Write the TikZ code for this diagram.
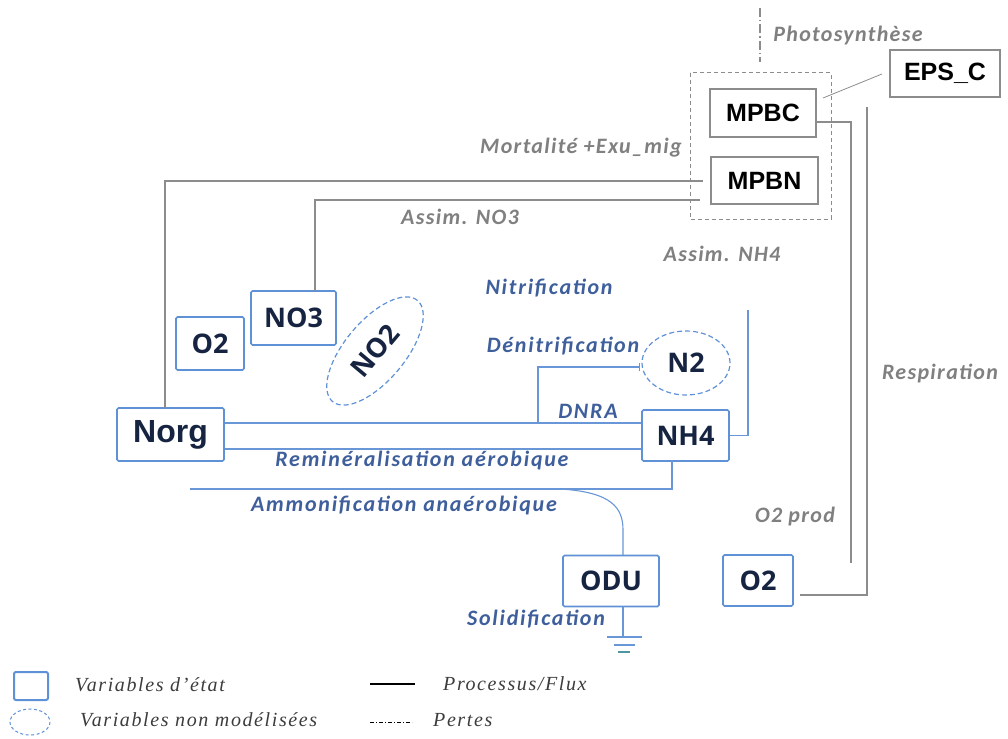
\documentclass[tikz,border=0pt]{standalone}
\usepackage{fontspec}
\usetikzlibrary{shapes.geometric,arrows.meta,calc}
\newfontfamily\boxfont{Open Sans}
\newfontfamily\arfont{Liberation Sans}
\newfontfamily\lblfont{Carlito}[LetterSpace=6]
\newfontfamily\blblfont{Carlito}[LetterSpace=8]
\newfontfamily\legfont{Liberation Serif}[LetterSpace=8]
\definecolor{boxblue}{RGB}{95,145,215}
\definecolor{navy}{RGB}{22,36,66}
\definecolor{lblblue}{RGB}{62,95,155}
\definecolor{lblgray}{RGB}{128,128,128}
\definecolor{linegray}{RGB}{140,140,140}
\definecolor{lineblue}{RGB}{105,150,215}
\definecolor{teal}{RGB}{80,150,160}
\definecolor{leggray}{RGB}{60,60,60}
\tikzset{
  svar/.style={draw=boxblue, line width=1.6pt, rounded corners=1.5pt, fill=white, inner sep=0pt,
    text=navy, font=\boxfont\bfseries\fontsize{27}{30}\selectfont},
  gbox/.style={draw=linegray, line width=1.2pt, fill=white, inner sep=0pt,
    text=black, font=\arfont\bfseries\fontsize{25}{28}\selectfont},
  nvar/.style={ellipse, draw=boxblue, dashed, dash pattern=on 5pt off 3pt, line width=1.2pt, inner sep=0pt,
    text=navy, font=\boxfont\bfseries\fontsize{27}{30}\selectfont},
  glbl/.style={inner sep=0pt, text=lblgray, font=\lblfont\bfseries\itshape\fontsize{22}{24}\selectfont},
  blbl/.style={inner sep=0pt, text=lblblue, font=\blblfont\bfseries\itshape\fontsize{22}{24}\selectfont},
  leg/.style={inner sep=0pt, anchor=west, text=leggray, font=\legfont\itshape\fontsize{20}{22}\selectfont},
  gflux/.style={draw=linegray, line width=1.1pt},
  bflux/.style={draw=lineblue, line width=1.1pt},
  loss/.style={draw=linegray, line width=1.1pt, dash pattern=on 9pt off 3pt on 1.5pt off 3pt},
}
\begin{document}
\begin{tikzpicture}[x=1pt,y=-1pt]
\useasboundingbox (0,0) rectangle (1008,738);
% group box
\draw[draw=linegray, line width=1pt, dash pattern=on 4pt off 3pt] (690,73) rectangle (831,219);
% state variables
\node[svar, minimum width=107pt, minimum height=53pt, font=\arfont\bfseries\fontsize{32}{34}\selectfont] (norg) at (170.5,434.5) {Norg};
\node[svar, minimum width=87pt, minimum height=51pt] (nh4) at (685.5,435.5) {NH4};
\node[svar, minimum width=85pt, minimum height=54pt] (no3) at (293.5,318) {NO3};
\node[svar, minimum width=68pt, minimum height=53pt] (o2l) at (210,343.5) {O2};
\node[svar, minimum width=96pt, minimum height=51pt] (odu) at (611,581) {ODU};
\node[svar, minimum width=70pt, minimum height=51pt] (o2r) at (758,580.5) {O2};
\node[gbox, minimum width=106pt, minimum height=48pt] (mpbc) at (763,113) {MPBC};
\node[gbox, minimum width=107pt, minimum height=47pt] (mpbn) at (764.5,180.5) {MPBN};
\node[gbox, minimum width=110pt, minimum height=47pt] (epsc) at (945,73.5) {EPS\_C};
\node[nvar, minimum width=88pt, minimum height=64pt] (n2) at (686,363) {N2};
\node[nvar, minimum width=132pt, minimum height=60pt, rotate=50] (no2) at (375,351) {NO2};
% coordinates
\coordinate (ptop) at (760,8);
\coordinate (pbot) at (760,62);
\coordinate (epsl) at (882,74);
\coordinate (mpbcne) at (823,98);
\coordinate (c1a) at (817,122);
\coordinate (c1b) at (851,122);
\coordinate (c1c) at (851,563);
\coordinate (c2a) at (867,107);
\coordinate (c2b) at (867,595);
\coordinate (c2c) at (800,595);
\coordinate (m1) at (165,408);
\coordinate (m1e) at (703,181);
\coordinate (m2) at (315,291);
\coordinate (m2e) at (700,200);
\coordinate (nh4up) at (748,310);
\coordinate (dn1) at (538,423);
\coordinate (dn2) at (640,367);
\coordinate (am1) at (190,489);
\coordinate (am2) at (672,461);
\coordinate (cv1) at (560,489);
\coordinate (cv2) at (623,530);
\coordinate (odutop) at (623,555);
\coordinate (odubot) at (623,607);
\coordinate (gnd) at (623,637);
% grey fluxes
\draw[loss] (ptop) -- (pbot);
\draw[gflux, line width=0.8pt] (epsl) -- (mpbcne);
\draw[gflux] (c1a) -- (c1b) -- (c1c);
\draw[gflux] (c2a) -- (c2b) -- (c2c);
\draw[gflux] (m1) |- (m1e);
\draw[gflux] (m2) |- (m2e);
% blue fluxes
\draw[bflux] (nh4.east) -| (nh4up);
\draw[bflux] ($(norg.east)+(0,-11.5)$) -- ($(nh4.west)+(0,-12.5)$);
\draw[bflux] ($(norg.east)+(0,14.5)$) -- ($(nh4.west)+(0,13.5)$);
\draw[bflux, -{Bar[width=8pt,line width=1.1pt]}] (dn1) |- (dn2);
\draw[bflux] (am1) -| (am2);
\draw[bflux] (cv1) .. controls (612,492) and (623,508) .. (cv2) -- (odutop);
\draw[bflux] (odubot) -- (gnd);
\draw[bflux] (607,637) -- (642,637);
\draw[bflux] (614,645) -- (635,645);
\draw[draw=teal, line width=1.3pt] (618,652) -- (630,652);
% labels
\node[glbl] (lphoto) at (848,36) {Photosynthèse};
\node[glbl] (lmort) at (581,148) {Mortalité +Exu\_mig};
\node[glbl] (lano3) at (460,217) {Assim. NO3};
\node[glbl] (lanh4) at (722,254) {Assim. NH4};
\node[blbl] (lnit) at (549,288) {Nitrification};
\node[blbl] (lden) at (563,346) {Dénitrification};
\node[blbl] (ldnra) at (588,411) {DNRA};
\node[blbl] (lremi) at (422,461) {Reminéralisation aérobique};
\node[blbl] (lammo) at (404,505) {Ammonification anaérobique};
\node[blbl] (lsol) at (536,619) {Solidification};
\node[glbl] (lo2p) at (795,517) {O2 prod};
\node[glbl] (lresp) at (940,374) {Respiration};
% legend
\draw[draw=boxblue, line width=2pt, rounded corners=2pt] (14,672) rectangle (48,700);
\draw[draw=boxblue, line width=1pt, dash pattern=on 3pt off 2.5pt] (30,722) ellipse [x radius=20, y radius=13];
\draw[draw=black, line width=1.1pt] (370,684) -- (415,684);
\draw[draw=black, line width=0.8pt, dash pattern=on 4pt off 2pt on 1pt off 2pt] (370,722) -- (412,722);
\node[leg] (lg1) at (75,685) {Variables d’état};
\node[leg] (lg2) at (80,720) {Variables non modélisées};
\node[leg] (lg3) at (443,684) {Processus/Flux};
\node[leg] (lg4) at (433,720) {Pertes};
\end{tikzpicture}
\end{document}
